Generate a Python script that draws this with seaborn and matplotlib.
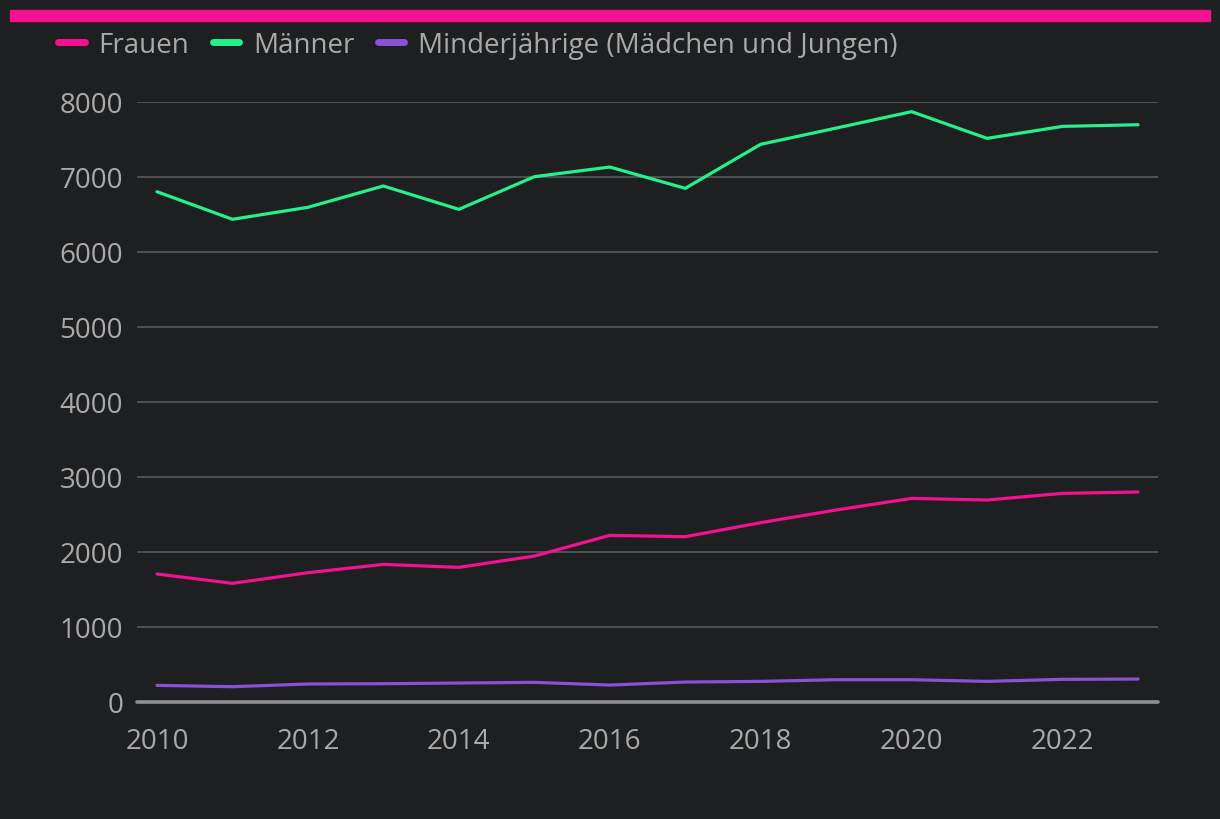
import pandas as pd
import matplotlib.pyplot as plt
import matplotlib.patches as mpatches
import seaborn as sns

years = list(range(2010, 2024))
frauen = [1703, 1578, 1720, 1831, 1791, 1942, 2218, 2200, 2387, 2556, 2711, 2689, 2778, 2796]
maenner = [6800, 6432, 6592, 6876, 6565, 7000, 7129, 6845, 7432, 7648, 7867, 7511, 7671, 7693]
minderjaehrige = [218, 200, 236, 240, 249, 258, 222, 262, 271, 293, 293, 271, 298, 302]
series_names = ["Frauen", "Männer", "Minderjährige (Mädchen und Jungen)"]
x_ticks = [2010, 2012, 2014, 2016, 2018, 2020, 2022]
y_ticks = [0, 1000, 2000, 3000, 4000, 5000, 6000, 7000, 8000]

BG = "#1e1f21"
TEXT = "#a9a9a9"
colors = ["#f5108f", "#25f08c", "#8b50d6"]

df = pd.DataFrame({
    "Jahr": years * 3,
    "Wert": frauen + maenner + minderjaehrige,
    "Gruppe": [series_names[0]] * len(years) + [series_names[1]] * len(years) + [series_names[2]] * len(years),
})

sns.set_theme(style="dark")
plt.rcParams["font.family"] = ["Open Sans", "DejaVu Sans"]

fig = plt.figure(figsize=(12.2, 8.2), dpi=100, facecolor=BG)
# axes spans x 137..1158 px, y 102..702 px
ax = fig.add_axes([137 / 1220, 1 - 702.7 / 820, (1158 - 137) / 1220, 600 / 820])
ax.set_facecolor(BG)

sns.lineplot(data=df, x="Jahr", y="Wert", hue="Gruppe", palette=colors,
             linewidth=2.3, ax=ax, legend=False, clip_on=False)

ax.set_xlim(2010 - 20 / 75.46, 2023 + 20 / 75.46)
ax.set_ylim(0, 8000)
ax.set_xticks(x_ticks)
ax.set_yticks(y_ticks)
ax.set_xlabel("")
ax.set_ylabel("")
ax.tick_params(axis="both", length=0, labelsize=20, colors=TEXT)
ax.tick_params(axis="x", pad=18)
ax.tick_params(axis="y", pad=10)

ax.grid(False)
for v in y_ticks[1:]:
    ax.axhline(v, color="#555555", linewidth=1.3, zorder=0)
ax.axhline(0, color="#8f8f8f", linewidth=2.6, zorder=1, clip_on=False)
for s in ax.spines.values():
    s.set_visible(False)

# top accent bar
fig.patches.append(mpatches.Rectangle((10 / 1220, 1 - 21.5 / 820), 1200 / 1220, 11 / 820,
                                      transform=fig.transFigure, color=colors[0]))

handles = [plt.Line2D([], [], color=c, linewidth=5, solid_capstyle="round") for c in colors]
leg = fig.legend(handles, series_names, loc="upper left", bbox_to_anchor=(47 / 1220, 1 - 21 / 820),
                 ncol=3, frameon=False, fontsize=20, handlelength=0.95, handletextpad=0.5,
                 columnspacing=0.85, borderaxespad=0)
for t in leg.get_texts():
    t.set_color(TEXT)

fig.savefig("out.png", dpi=100, facecolor=BG)
